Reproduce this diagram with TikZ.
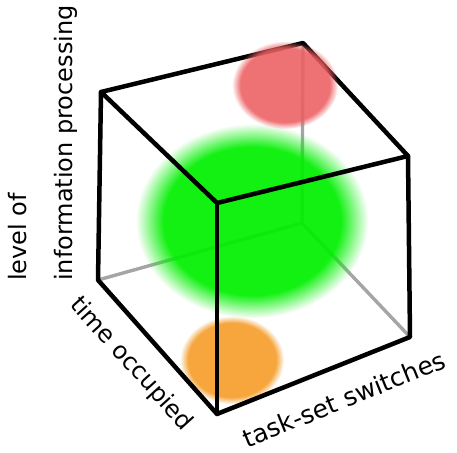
\documentclass[tikz,border=0pt]{standalone}
\usepackage{fontspec}
\setmainfont{DejaVu Sans}
\usetikzlibrary{fadings}
\pgfdeclareradialshading{blobshadeA}{\pgfpointorigin}{color(0bp)=(white); color(19bp)=(white); color(25bp)=(black); color(50bp)=(black)}
\pgfdeclarefading{blobfadeA}{\pgfuseshading{blobshadeA}}
\pgfdeclareradialshading{blobshadeB}{\pgfpointorigin}{color(0bp)=(white); color(21bp)=(white); color(25bp)=(black); color(50bp)=(black)}
\pgfdeclarefading{blobfadeB}{\pgfuseshading{blobshadeB}}
\definecolor{blobgreen}{RGB}{0,240,0}
\definecolor{blobred}{RGB}{236,94,96}
\definecolor{bloborange}{RGB}{246,166,60}
\definecolor{hidgray}{RGB}{165,165,165}
\tikzset{
  edgeline/.style={black, line width=4.5pt, line cap=round, line join=round},
  hidline/.style={hidgray, line width=3.4pt, line cap=round},
  axislabel/.style={inner sep=0pt, font=\fontsize{24}{24}\selectfont},
}
\begin{document}
\begin{tikzpicture}[x=1pt, y=-1pt]
\useasboundingbox[fill=white] (0,0) rectangle (457,452);
% vertices
\coordinate (A) at (101,92);
\coordinate (B) at (303,43);
\coordinate (C) at (408,156);
\coordinate (D) at (217,203);
\coordinate (E) at (98,280);
\coordinate (F) at (217,414);
\coordinate (G) at (410,337);
\coordinate (H) at (302,223);
% hidden edges
\draw[hidline] (E) -- (H);
\draw[hidline] (H) -- (G);
\draw[hidline] (B) -- (H);
% blobs
\fill[blobgreen, fill opacity=0.93, path fading=blobfadeA] (252,221) ellipse [x radius=116pt, y radius=97pt];
\fill[bloborange, path fading=blobfadeB] (232,360) ellipse [x radius=52pt, y radius=44pt];
% visible edges
\draw[edgeline] (A) -- (B) -- (C) -- (D) -- cycle;
\draw[edgeline] (A) -- (E) -- (F) -- (G) -- (C);
\draw[edgeline] (D) -- (F);
\fill[blobred, fill opacity=0.88, path fading=blobfadeB] (285,85) ellipse [x radius=53pt, y radius=44pt];
% labels
\node[axislabel, rotate=90, anchor=base west] (lvl1) at (26,281) {level of};
\node[axislabel, rotate=90, anchor=base west] (lvl2) at (72,281) {information processing};
\node[rotate=-48, inner sep=0pt, font=\fontsize{24}{24}\selectfont] (tocc) at (131,364) {time occupied};
\node[rotate=22, inner sep=0pt, font=\fontsize{25}{25}\selectfont] (tss) at (344,399) {task-set switches};
\end{tikzpicture}
\end{document}
